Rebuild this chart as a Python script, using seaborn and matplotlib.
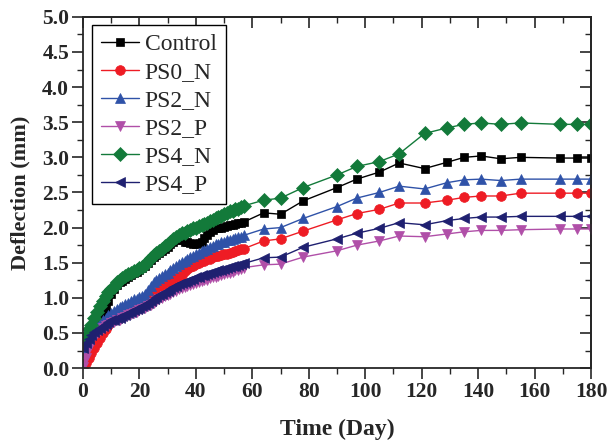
import matplotlib
matplotlib.use("Agg")
import matplotlib.pyplot as plt
import seaborn as sns
import numpy as np
import pandas as pd
from matplotlib.ticker import MultipleLocator, FormatStrFormatter

# ---- data ----
dense_days = list(range(0, 58))
tail_days = [64, 70, 78, 90, 97, 105, 112, 121, 129, 135, 141, 148, 155, 169, 175, 180]
days = dense_days + tail_days

control = [0.25, 0.35, 0.45, 0.52, 0.60, 0.66, 0.72, 0.78, 0.85, 0.95, 1.05, 1.12, 1.18, 1.22, 1.24, 1.27,
           1.30, 1.32, 1.35, 1.37, 1.40, 1.42, 1.45, 1.49, 1.54, 1.58, 1.61, 1.64, 1.67, 1.70, 1.73, 1.76,
           1.79, 1.82, 1.84, 1.82, 1.80, 1.79, 1.78, 1.77, 1.77, 1.78, 1.80, 1.85, 1.90, 1.94, 1.97, 1.99,
           2.00, 2.00, 2.01, 2.02, 2.03, 2.04, 2.05, 2.06, 2.07, 2.08,
           2.21, 2.19, 2.38, 2.57, 2.69, 2.79, 2.92, 2.84, 2.93, 3.00, 3.02, 2.98, 3.00, 2.99, 2.99, 2.99]
ps0_n = [0.00, 0.07, 0.14, 0.22, 0.29, 0.35, 0.43, 0.50, 0.56, 0.62, 0.67, 0.70, 0.73, 0.76, 0.78, 0.80,
         0.82, 0.84, 0.86, 0.89, 0.91, 0.93, 0.96, 0.98, 1.01, 1.04, 1.07, 1.11, 1.14, 1.17, 1.20, 1.23,
         1.26, 1.28, 1.30, 1.33, 1.38, 1.41, 1.44, 1.46, 1.48, 1.50, 1.52, 1.53, 1.55, 1.56, 1.58, 1.59,
         1.60, 1.61, 1.62, 1.63, 1.64, 1.65, 1.66, 1.68, 1.69, 1.70,
         1.81, 1.84, 1.95, 2.11, 2.20, 2.26, 2.35, 2.35, 2.39, 2.43, 2.45, 2.45, 2.49, 2.49, 2.49, 2.49]
ps2_n = [0.27, 0.35, 0.42, 0.49, 0.55, 0.60, 0.64, 0.68, 0.72, 0.75, 0.78, 0.81, 0.84, 0.87, 0.89, 0.91,
         0.93, 0.96, 0.98, 0.99, 1.01, 1.03, 1.06, 1.11, 1.17, 1.22, 1.25, 1.28, 1.31, 1.34, 1.36, 1.39,
         1.42, 1.45, 1.48, 1.51, 1.53, 1.56, 1.58, 1.60, 1.62, 1.64, 1.66, 1.68, 1.70, 1.72, 1.74, 1.76,
         1.77, 1.79, 1.80, 1.82, 1.83, 1.84, 1.85, 1.86, 1.87, 1.89,
         1.98, 2.00, 2.13, 2.30, 2.42, 2.50, 2.59, 2.55, 2.64, 2.68, 2.69, 2.67, 2.69, 2.69, 2.69, 2.69]
ps2_p = [0.02, 0.15, 0.28, 0.38, 0.45, 0.50, 0.54, 0.57, 0.60, 0.62, 0.64, 0.66, 0.68, 0.69, 0.71, 0.73,
         0.75, 0.77, 0.79, 0.80, 0.82, 0.84, 0.86, 0.88, 0.90, 0.92, 0.95, 0.98, 1.00, 1.02, 1.04, 1.06,
         1.08, 1.10, 1.12, 1.14, 1.16, 1.17, 1.18, 1.20, 1.21, 1.23, 1.24, 1.25, 1.26, 1.28, 1.29, 1.30,
         1.31, 1.33, 1.34, 1.35, 1.36, 1.37, 1.39, 1.40, 1.41, 1.43,
         1.47, 1.48, 1.58, 1.67, 1.75, 1.81, 1.88, 1.87, 1.91, 1.94, 1.96, 1.96, 1.97, 1.98, 1.98, 1.98]
ps4_n = [0.38, 0.45, 0.55, 0.62, 0.72, 0.80, 0.88, 0.96, 1.03, 1.08, 1.12, 1.16, 1.22, 1.26, 1.28, 1.31,
         1.34, 1.36, 1.38, 1.40, 1.42, 1.44, 1.47, 1.52, 1.57, 1.61, 1.64, 1.67, 1.70, 1.74, 1.77, 1.80,
         1.84, 1.87, 1.90, 1.92, 1.93, 1.95, 1.97, 1.99, 2.00, 2.02, 2.04, 2.05, 2.07, 2.09, 2.11, 2.13,
         2.15, 2.17, 2.19, 2.21, 2.23, 2.24, 2.26, 2.27, 2.29, 2.31,
         2.39, 2.42, 2.57, 2.75, 2.87, 2.94, 3.05, 3.34, 3.42, 3.47, 3.49, 3.47, 3.49, 3.47, 3.47, 3.47]
ps4_p = [0.28, 0.36, 0.42, 0.47, 0.51, 0.54, 0.57, 0.60, 0.63, 0.66, 0.68, 0.69, 0.71, 0.72, 0.74, 0.76,
         0.78, 0.80, 0.82, 0.84, 0.86, 0.88, 0.90, 0.92, 0.95, 0.98, 1.01, 1.04, 1.06, 1.08, 1.10, 1.13,
         1.15, 1.17, 1.19, 1.21, 1.22, 1.24, 1.26, 1.27, 1.29, 1.30, 1.32, 1.33, 1.34, 1.36, 1.37, 1.38,
         1.39, 1.40, 1.41, 1.43, 1.44, 1.45, 1.46, 1.47, 1.48, 1.49,
         1.57, 1.58, 1.72, 1.84, 1.92, 1.99, 2.07, 2.04, 2.10, 2.13, 2.15, 2.15, 2.16, 2.16, 2.16, 2.16]

series_names = ["Control", "PS0_N", "PS2_N", "PS2_P", "PS4_N", "PS4_P"]
series_values = [control, ps0_n, ps2_n, ps2_p, ps4_n, ps4_p]
colors = ["#000000", "#ee1c24", "#2f52a8", "#b04fa8", "#137a3a", "#1f2070"]
markers = ["s", "o", "^", "v", "D", "<"]
msizes = [6.2, 7, 7.5, 7.5, 6.8, 7.5]

xticks = [0, 20, 40, 60, 80, 100, 120, 140, 160, 180]
yticks = [0.0, 0.5, 1.0, 1.5, 2.0, 2.5, 3.0, 3.5, 4.0, 4.5, 5.0]

df = pd.DataFrame({
    "Time": np.tile(days, len(series_names)),
    "Deflection": np.concatenate(series_values),
    "Series": np.repeat(series_names, len(days)),
})

sns.set_style("ticks")
plt.rcParams["font.family"] = ["Liberation Serif", "DejaVu Serif"]

fig = plt.figure(figsize=(6.10, 4.44), dpi=100)
ax = fig.add_axes([0.136, 0.171, 0.833, 0.791])

for name, c, m, ms in zip(series_names, colors, markers, msizes):
    sub = df[df["Series"] == name]
    sns.lineplot(data=sub, x="Time", y="Deflection", ax=ax, color=c, marker=m,
                 markersize=ms, markeredgewidth=0.5, markeredgecolor=c,
                 linewidth=1.0, label=name, sort=False)

ax.set_xlim(0, 180)
ax.set_ylim(0, 5.0)
ax.set_xticks(xticks)
ax.set_yticks(yticks)
ax.yaxis.set_major_formatter(FormatStrFormatter("%.1f"))
ax.xaxis.set_minor_locator(MultipleLocator(10))
ax.yaxis.set_minor_locator(MultipleLocator(0.25))

for s in ax.spines.values():
    s.set_linewidth(1.3)
    s.set_visible(True)

ax.tick_params(axis="both", which="major", direction="out", length=8, width=1.2,
               labelsize=15.5, pad=2)
ax.tick_params(axis="both", which="minor", direction="out", length=4, width=1.0)
for lab in ax.get_xticklabels() + ax.get_yticklabels():
    lab.set_fontweight("bold")

# mirrored inner ticks on top and right
axt = ax.secondary_xaxis("top")
axt.set_xticks(xticks)
axt.xaxis.set_minor_locator(MultipleLocator(10))
axt.tick_params(which="major", direction="in", length=8, width=1.2, labeltop=False)
axt.tick_params(which="minor", direction="in", length=4, width=1.0)
axr = ax.secondary_yaxis("right")
axr.set_yticks(yticks)
axr.yaxis.set_minor_locator(MultipleLocator(0.25))
axr.tick_params(which="major", direction="in", length=8, width=1.2, labelright=False)
axr.tick_params(which="minor", direction="in", length=4, width=1.0)
axt.spines["top"].set_linewidth(1.3)
axr.spines["right"].set_linewidth(1.3)

ax.set_xlabel("Time (Day)", fontsize=17, fontweight="bold", labelpad=12)
ax.set_ylabel("Deflection (mm)", fontsize=16, fontweight="bold", labelpad=8)

leg = ax.legend(loc="upper left", bbox_to_anchor=(0.0177, 0.977), fontsize=17,
                frameon=True, fancybox=False, framealpha=1, edgecolor="black",
                handlelength=1.6, handletextpad=0.25, labelspacing=0.27,
                borderpad=0.38, borderaxespad=0)
leg.get_frame().set_linewidth(1.0)

fig.savefig("out.png", dpi=100)
